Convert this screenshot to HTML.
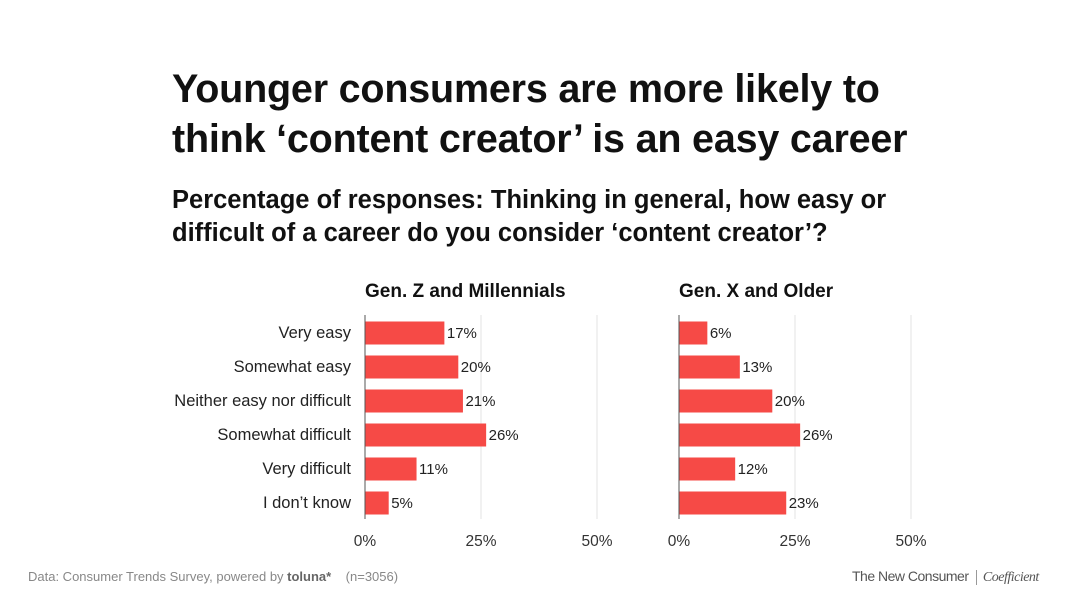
<!DOCTYPE html>
<html><head><meta charset="utf-8">
<style>
body{margin:0;width:1080px;height:608px;background:#fff;font-family:"Liberation Sans",sans-serif;color:#111;overflow:hidden;position:relative}
.t{position:absolute;left:172px;font-weight:bold;white-space:nowrap}
</style></head><body>
<div class="t" style="top:64px;font-size:39.5px;line-height:50px;letter-spacing:-0.2px">Younger consumers are more likely to<br>think ‘content creator’ is an easy career</div>
<div class="t" style="top:184px;font-size:25.5px;line-height:33px">Percentage of responses: Thinking in general, how easy or<br>difficult of a career do you consider ‘content creator’?</div>
<svg id="c" width="1080" height="608" style="position:absolute;left:0;top:0"></svg>
<div style="position:absolute;left:28px;top:569px;font-size:13px;color:#888">Data: Consumer Trends Survey, powered by <b style="color:#666">toluna*</b> &nbsp;&nbsp; (n=3056)</div>
<div style="position:absolute;left:852px;top:568px;font-size:14px;color:#555;letter-spacing:-0.5px">The New Consumer <span style="border-left:1px solid #999;margin-left:4px;padding-left:6px;font-family:'Liberation Serif',serif;font-style:italic">Coefficient</span></div>
<script>
const categories=["Very easy","Somewhat easy","Neither easy nor difficult","Somewhat difficult","Very difficult","I don’t know"];
const genZ=[17,20,21,26,11,5];
const genX=[6,13,20,26,12,23];
const panelTitles=["Gen. Z and Millennials","Gen. X and Older"];
const ticks=[0,25,50];
const svg=document.getElementById('c');
const NS='http://www.w3.org/2000/svg';
function mk(t,a,txt){const e=document.createElementNS(NS,t);for(const k in a)e.setAttribute(k,a[k]);if(txt!=null)e.textContent=txt;svg.appendChild(e);return e;}
const pxPer=116/25, rowY=i=>333+i*34, barH=23;
[[genZ,365,0],[genX,679,1]].forEach(([vals,x0,p])=>{
  const x=v=>x0+v*pxPer;
  ticks.forEach(t=>{
    const g=mk('line',{x1:x(t),x2:x(t),y1:315,y2:519,stroke:t===0?'#555':'#e3e3e3','stroke-width':1});
    
    
    const l=mk('text',{x:x(t),y:546,'text-anchor':'middle','font-size':15.5,fill:'#333'},t+'%');
    
    
  });
  const tt=mk('text',{x:x0,y:297,'font-size':19,'font-weight':'bold',fill:'#111'},panelTitles[p]);
  
  
  vals.forEach((v,i)=>{
    const b=mk('rect',{x:x0+0.5,y:rowY(i)-barH/2,width:x(v)-x0,height:barH,fill:'#f64a46'});
    
    
    const vl=mk('text',{x:x(v)+3,y:rowY(i)+5,'font-size':15,fill:'#222'},v+'%');
    
    
    if(p===0){
      const cl=mk('text',{x:351,y:rowY(i)+5,'text-anchor':'end','font-size':16.5,fill:'#222'},categories[i]);
      
      
    }
  });
});
</script>
</body></html>
